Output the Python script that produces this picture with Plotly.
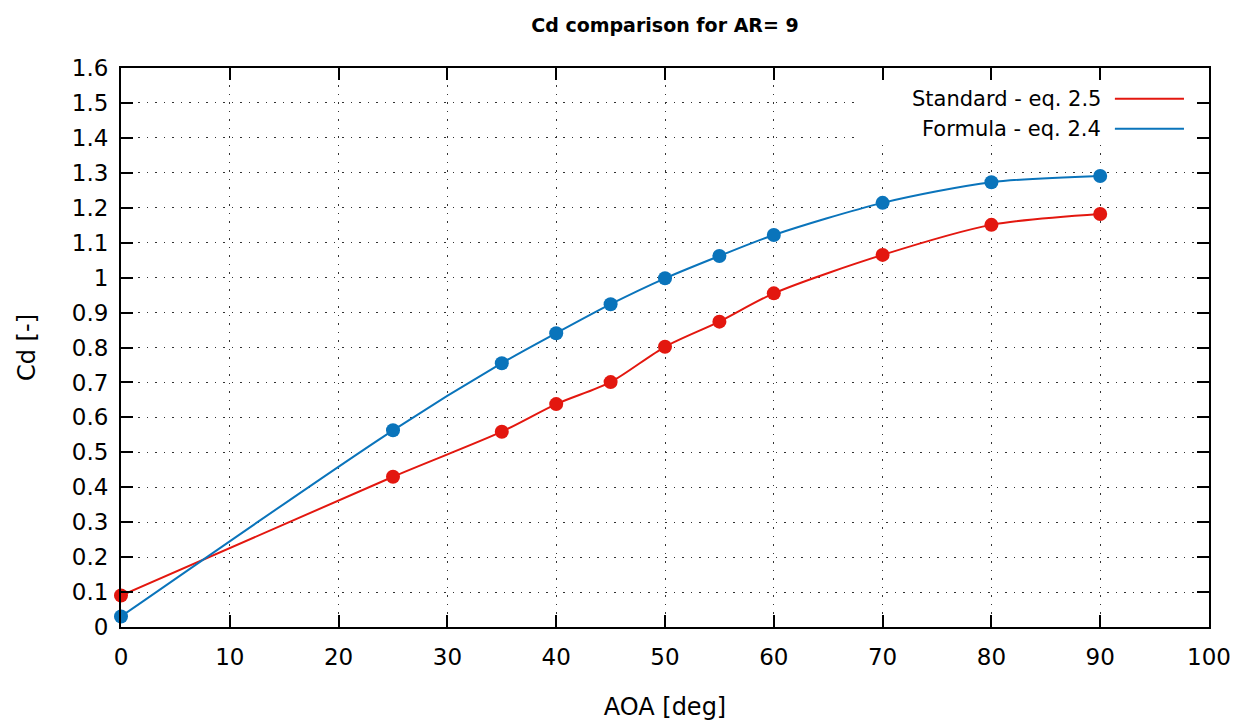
import plotly.graph_objects as go

aoa = [0, 25, 35, 40, 45, 50, 55, 60, 70, 80, 90]
cd_standard = [0.09, 0.43, 0.559, 0.638, 0.701, 0.802, 0.874, 0.955, 1.065, 1.151, 1.182]
cd_formula = [0.03, 0.563, 0.755, 0.841, 0.924, 0.998, 1.062, 1.122, 1.214, 1.273, 1.291]

name_standard = "Standard - eq. 2.5"
name_formula = "Formula - eq. 2.4"
title_text = "Cd comparison for AR= 9"
x_title = "AOA [deg]"
y_title = "Cd [-]"

red = "#e3170f"
blue = "#0a74bb"
font_family = "DejaVu Sans"

fig = go.Figure()
for ys, col, nm in [(cd_standard, red, name_standard), (cd_formula, blue, name_formula)]:
    fig.add_trace(go.Scatter(x=aoa, y=ys, mode="lines", name=nm,
                             line=dict(color=col, width=2, shape="spline", smoothing=0.8),
                             showlegend=False, cliponaxis=False))
    fig.add_trace(go.Scatter(x=aoa, y=ys, mode="markers", name=nm,
                             marker=dict(color=col, size=14),
                             showlegend=False, cliponaxis=False))

axis_common = dict(
    showline=True, linecolor="black", linewidth=2, mirror="ticks",
    ticks="inside", ticklen=12, tickwidth=2, tickcolor="black",
    showgrid=True, gridcolor="#333333", gridwidth=1, griddash="1.5px,7px",
    zeroline=False, tickfont=dict(family=font_family, size=23, color="black"),
    automargin=False,
)

fig.update_xaxes(range=[0, 100], dtick=10, tick0=0,
                 title=dict(text=x_title, font=dict(family=font_family, size=24, color="black"), standoff=30),
                 ticklabelstandoff=8, **axis_common)
fig.update_yaxes(range=[0, 1.6], dtick=0.1, tick0=0,
                 title=dict(text=y_title, font=dict(family=font_family, size=24, color="black"), standoff=29),
                 ticklabelstandoff=6, **axis_common)

# opaque key box (hides grid behind the key, like gnuplot)
fig.add_shape(type="rect", xref="paper", yref="paper",
              x0=(858 - 121) / 1088, x1=(1194 - 121) / 1088,
              y0=(627 - 144) / 559, y1=(627 - 82) / 559,
              fillcolor="white", line=dict(width=0), layer="above")

# legend drawn as text on the left of the sample line (gnuplot style)
for i, (nm, col) in enumerate([(name_standard, red), (name_formula, blue)]):
    yp = 0.945 - i * 0.0537
    fig.add_annotation(x=0.9025, y=yp, xref="paper", yref="paper", text=nm, showarrow=False,
                       xanchor="right", yanchor="middle",
                       font=dict(family=font_family, size=21, color="black"))
    fig.add_shape(type="line", xref="paper", yref="paper", x0=0.9135, x1=0.9770, y0=yp, y1=yp,
                  line=dict(color=col, width=2), layer="above")

fig.update_layout(
    width=1247, height=723,
    margin=dict(l=121, r=38, t=68, b=96),
    paper_bgcolor="white", plot_bgcolor="white",
    title=dict(text="<b>" + title_text + "</b>", x=0.5, xref="paper", xanchor="center",
               y=1 - 25 / 723, yanchor="middle",
               font=dict(family=font_family, size=19, color="black")),
    showlegend=False,
)

fig.write_html("out.html")
